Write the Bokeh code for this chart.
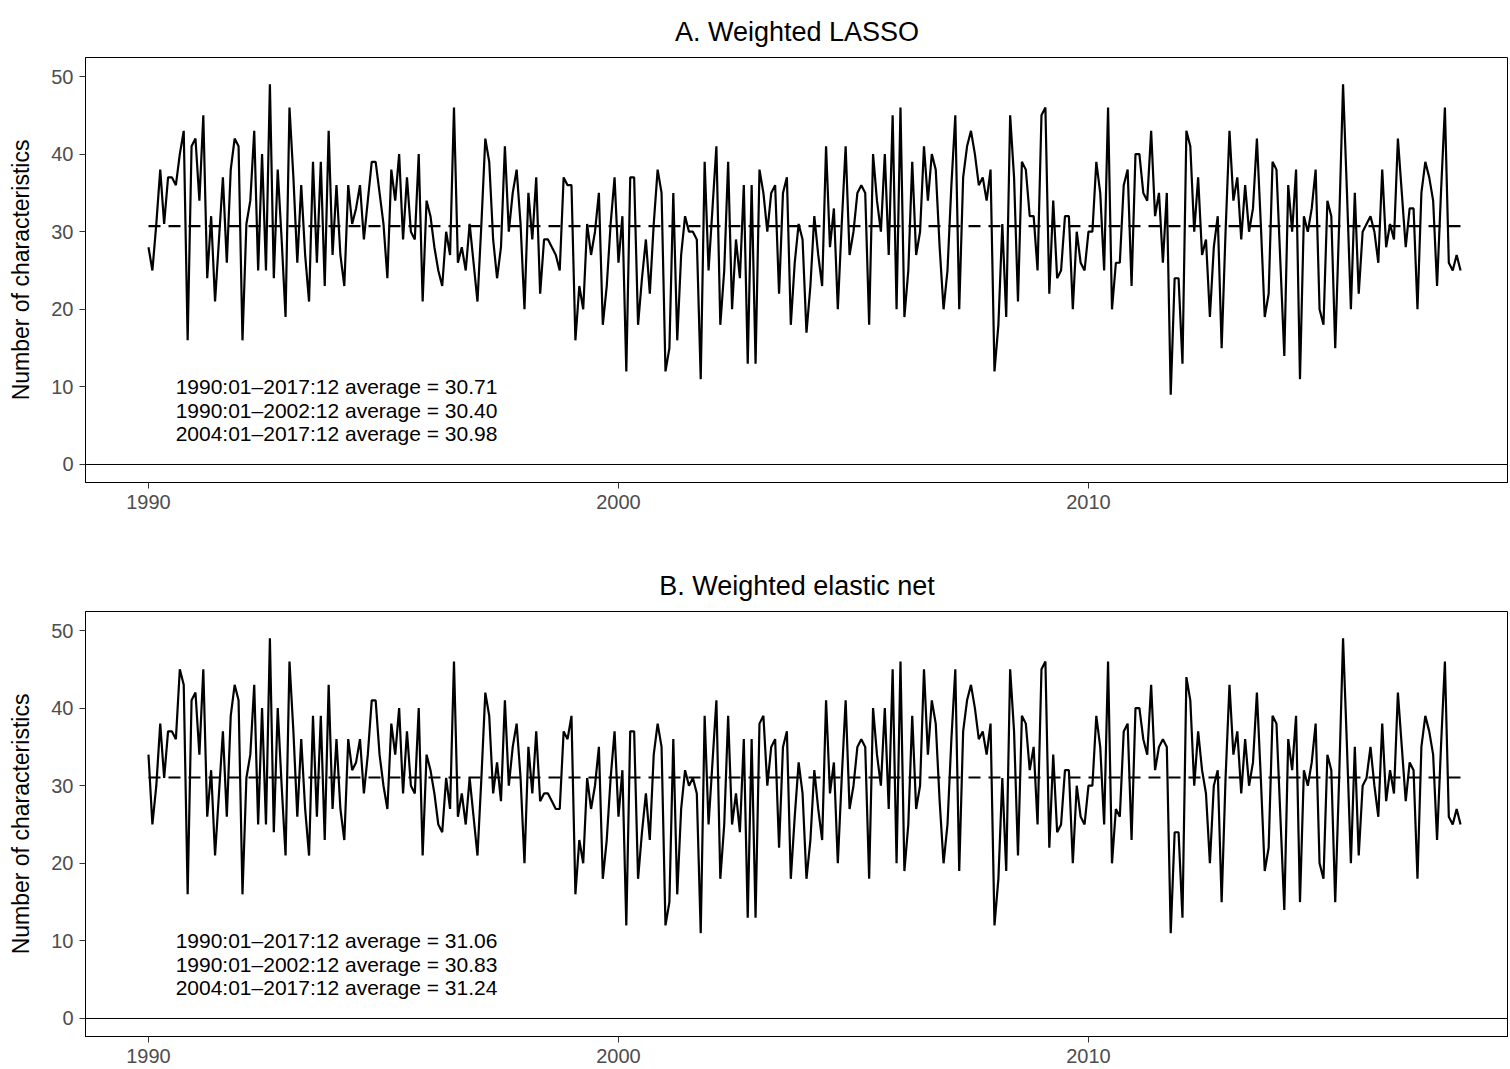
from bokeh.plotting import figure
from bokeh.layouts import column
from bokeh.models import FixedTicker, Span
from bokeh.embed import file_html
from bokeh.resources import INLINE
from bokeh.core.properties import value

START_YEAR = 1990

lasso = [
    28, 25, 31, 38, 31, 37, 37, 36, 40, 43,
    16, 41, 42, 34, 45, 24, 32, 21, 29, 37,
    26, 38, 42, 41, 16, 31, 34, 43, 25, 40,
    25, 49, 24, 38, 29, 19, 46, 37, 26, 36,
    27, 21, 39, 26, 39, 23, 43, 27, 36, 27,
    23, 36, 31, 33, 36, 29, 34, 39, 39, 35,
    31, 24, 38, 34, 40, 29, 37, 30, 29, 40,
    21, 34, 32, 28, 25, 23, 30, 27, 46, 26,
    28, 25, 31, 26, 21, 31, 42, 39, 29, 24,
    28, 41, 30, 35, 38, 31, 20, 35, 29, 37,
    22, 29, 29, 28, 27, 25, 37, 36, 36, 16,
    23, 20, 31, 27, 30, 35, 18, 23, 31, 37,
    26, 32, 12, 37, 37, 18, 24, 29, 22, 31,
    38, 35, 12, 15, 35, 16, 27, 32, 30, 30,
    29, 11, 39, 25, 33, 41, 18, 25, 39, 20,
    29, 24, 36, 13, 36, 13, 38, 35, 30, 35,
    36, 22, 35, 37, 18, 26, 31, 29, 17, 23,
    32, 27, 23, 41, 28, 33, 20, 31, 41, 27,
    30, 35, 36, 35, 18, 40, 34, 30, 40, 27,
    45, 20, 46, 19, 25, 39, 27, 30, 41, 34,
    40, 38, 28, 20, 25, 36, 45, 20, 37, 41,
    43, 40, 36, 37, 34, 38, 12, 18, 31, 19,
    45, 37, 21, 39, 38, 32, 32, 25, 45, 46,
    22, 34, 24, 25, 32, 32, 20, 30, 26, 25,
    30, 30, 39, 35, 25, 46, 20, 26, 26, 36,
    38, 23, 40, 40, 35, 34, 43, 32, 35, 26,
    35, 9, 24, 24, 13, 43, 41, 30, 37, 27,
    29, 19, 28, 32, 15, 30, 43, 34, 37, 29,
    36, 30, 33, 42, 31, 19, 22, 39, 38, 26,
    14, 36, 30, 38, 11, 32, 30, 33, 38, 20,
    18, 34, 32, 15, 31, 49, 35, 20, 35, 22,
    30, 31, 32, 30, 26, 38, 28, 31, 29, 42,
    35, 28, 33, 33, 20, 35, 39, 37, 34, 23,
    35, 46, 26, 25, 27, 25,
]

enet = [
    34, 25, 30, 38, 31, 37, 37, 36, 45, 43,
    16, 41, 42, 34, 45, 26, 32, 21, 29, 37,
    26, 39, 43, 41, 16, 31, 34, 43, 25, 40,
    25, 49, 24, 40, 30, 21, 46, 37, 26, 36,
    27, 21, 39, 26, 39, 23, 43, 27, 36, 27,
    23, 36, 32, 33, 36, 29, 34, 41, 41, 34,
    30, 27, 38, 34, 40, 29, 37, 30, 29, 40,
    21, 34, 32, 29, 25, 24, 31, 27, 46, 26,
    29, 25, 31, 26, 21, 31, 42, 39, 29, 33,
    28, 41, 30, 35, 38, 31, 20, 35, 29, 37,
    28, 29, 29, 28, 27, 27, 37, 36, 39, 16,
    23, 20, 31, 27, 30, 35, 18, 23, 31, 37,
    26, 32, 12, 37, 37, 18, 24, 29, 23, 34,
    38, 35, 12, 15, 36, 16, 27, 32, 30, 31,
    29, 11, 39, 25, 33, 41, 18, 25, 39, 25,
    29, 24, 36, 13, 36, 13, 38, 39, 30, 35,
    36, 22, 35, 37, 18, 26, 33, 29, 18, 23,
    32, 27, 23, 41, 29, 33, 20, 31, 41, 27,
    30, 35, 36, 35, 18, 40, 34, 30, 40, 27,
    45, 20, 46, 19, 25, 39, 27, 30, 45, 34,
    41, 38, 28, 20, 25, 36, 45, 19, 37, 41,
    43, 40, 36, 37, 34, 38, 12, 18, 31, 19,
    45, 37, 21, 39, 38, 32, 35, 25, 45, 46,
    22, 34, 24, 25, 32, 32, 20, 30, 26, 25,
    30, 30, 39, 35, 25, 46, 20, 27, 26, 37,
    38, 23, 40, 40, 36, 34, 43, 32, 35, 36,
    35, 11, 24, 24, 13, 44, 41, 30, 37, 32,
    29, 20, 30, 32, 15, 31, 43, 34, 37, 29,
    36, 30, 33, 42, 31, 19, 22, 39, 38, 26,
    14, 36, 32, 39, 15, 32, 30, 33, 38, 20,
    18, 34, 32, 15, 31, 49, 35, 20, 35, 21,
    30, 31, 35, 30, 26, 38, 28, 32, 29, 42,
    35, 28, 33, 32, 18, 35, 39, 37, 34, 23,
    35, 46, 26, 25, 27, 25,
]

lasso_mean = 30.71
enet_mean = 31.06

lasso_notes = [
    "1990:01\u20132017:12 average = 30.71",
    "1990:01\u20132002:12 average = 30.40",
    "2004:01\u20132017:12 average = 30.98",
]
enet_notes = [
    "1990:01\u20132017:12 average = 31.06",
    "1990:01\u20132002:12 average = 30.83",
    "2004:01\u20132017:12 average = 31.24",
]

titles = ["A. Weighted LASSO", "B. Weighted elastic net"]
x_ticks = [1990, 2000, 2010]
y_ticks = [0, 10, 20, 30, 40, 50]
y_label = "Number of characteristics"

FONT = "Liberation Sans"
NOTE_X = 1994.0
NOTE_Y = [10, 7, 4]
WIDTH = 1508
LEFT = 85


def make_panel(title, vals, mean, notes, height, border_bottom):
    xs = [START_YEAR + i / 12.0 for i in range(len(vals))]
    x_end = 1988.66 + (WIDTH - LEFT) / 47.0
    p = figure(width=WIDTH, height=height, output_backend="svg",
               toolbar_location=None, x_range=(1988.66, x_end),
               y_range=(-2.32, 52.45), title=title)
    p.min_border_left = LEFT
    p.min_border_right = 0
    p.min_border_top = 57
    p.min_border_bottom = border_bottom
    p.title.text_font = FONT
    p.title.text_font_size = "27px"
    p.title.text_font_style = "normal"
    p.title.text_color = "black"
    p.title.align = "center"
    p.title.standoff = 22
    p.xgrid.visible = False
    p.ygrid.visible = False
    p.outline_line_color = "black"
    p.outline_line_width = 1
    p.background_fill_color = "white"
    p.border_fill_color = "white"

    for ax in (p.xaxis[0], p.yaxis[0]):
        ax.axis_line_color = "black"
        ax.axis_line_width = 1
        ax.major_tick_line_color = "#333333"
        ax.major_tick_out = 6
        ax.major_tick_in = 0
        ax.minor_tick_line_color = None
        ax.major_label_text_font = FONT
        ax.major_label_text_font_size = "20px"
        ax.major_label_text_color = "#4D4D4D"
    p.xaxis.ticker = FixedTicker(ticks=x_ticks)
    p.yaxis.ticker = FixedTicker(ticks=y_ticks)
    p.xaxis.major_label_standoff = 6
    p.yaxis.major_label_standoff = 6
    p.yaxis.axis_label = y_label
    p.yaxis.axis_label_text_font = FONT
    p.yaxis.axis_label_text_font_size = "23px"
    p.yaxis.axis_label_text_font_style = "normal"
    p.yaxis.axis_label_text_color = "black"
    p.yaxis.axis_label_standoff = 14

    p.add_layout(Span(location=0, dimension="width", line_color="black",
                      line_width=1))
    p.line(xs, vals, line_color="black", line_width=2.2)
    p.line([xs[0], xs[-1]], [mean, mean], line_color="black",
           line_width=2.2, line_dash="12 8")
    p.text(x=[NOTE_X] * len(notes), y=NOTE_Y, text=notes,
           text_align="center", text_baseline="middle",
           text_font=value(FONT), text_font_size="21px", text_color="black")
    return p


p1 = make_panel(titles[0], lasso, lasso_mean, lasso_notes, 554, 72)
p2 = make_panel(titles[1], enet, enet_mean, enet_notes, 514, 32)
layout = column(p1, p2, spacing=0)

open("out.html", "w").write(file_html(layout, INLINE))
